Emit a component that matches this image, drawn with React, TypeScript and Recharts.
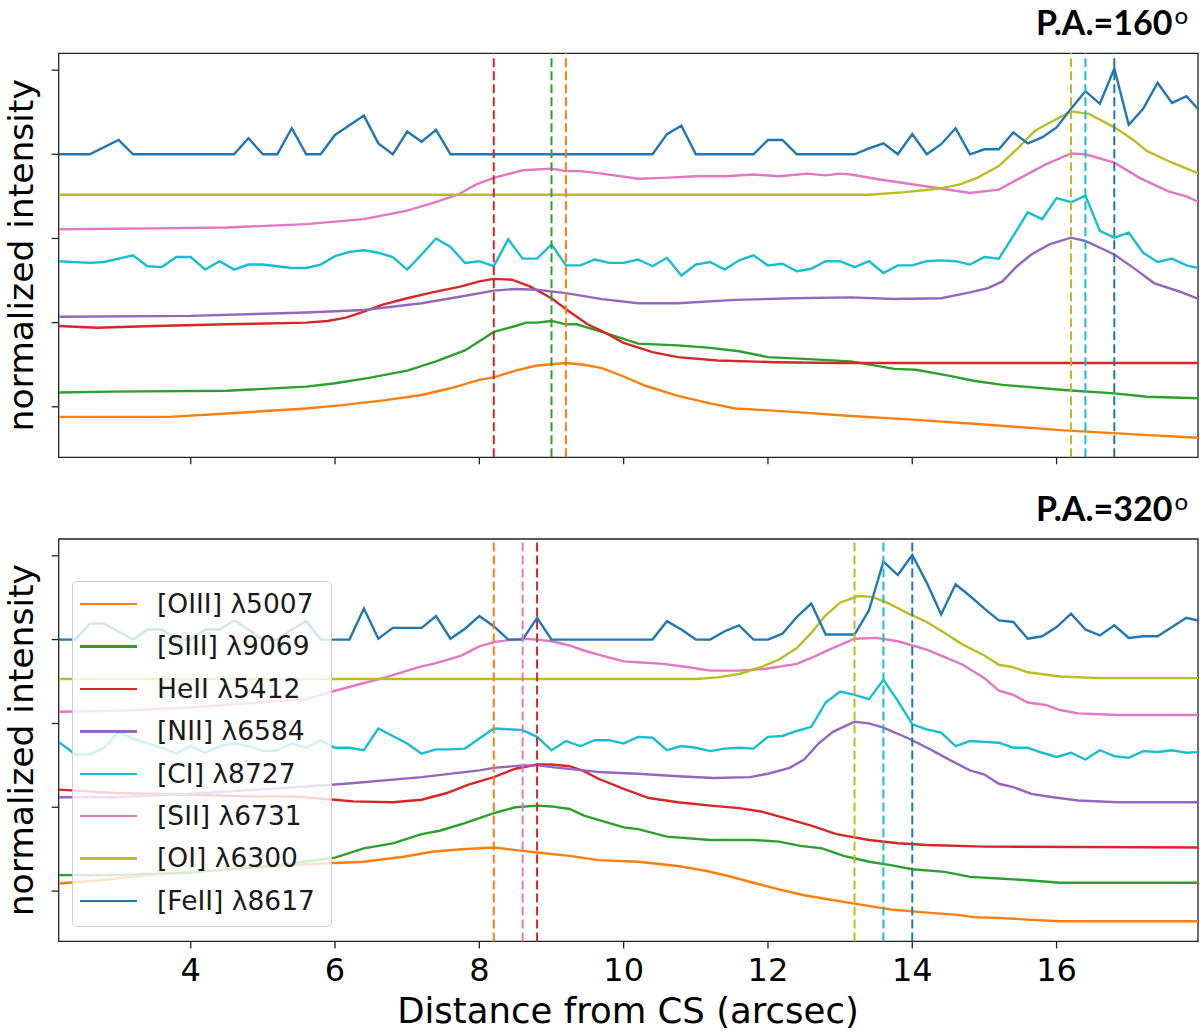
import React from "react";
import { LineChart, Line, XAxis, YAxis, ReferenceLine, ReferenceArea } from "recharts";

type Pt = [number, number];

const NAMES = [
  "[OIII] λ5007",
  "[SIII] λ9069",
  "HeII λ5412",
  "[NII] λ6584",
  "[CI] λ8727",
  "[SII] λ6731",
  "[OI] λ6300",
  "[FeII] λ8617",
];
const COLORS = ["#ff7f0e", "#2ca02c", "#d62728", "#9467bd", "#17becf", "#e377c2", "#bcbd22", "#1f77b4"];

const X_DOMAIN = [2.17, 17.96];
const X_TICKS = [4, 6, 8, 10, 12, 14, 16];
const Y_DOMAIN = [-0.6, 4.2];
const Y_TICKS = [0, 1, 2, 3, 4];

// ---- P.A. = 160 ----
const OIII_160: Pt[] = [[2.17,-0.12],[2.9,-0.12],[3.7,-0.12],[4.5,-0.08],[5.6,-0.02],[6.1,0.02],[6.7,0.08],[7.2,0.14],[7.6,0.22],[8.0,0.32],[8.2,0.35],[8.5,0.43],[8.8,0.49],[9.2,0.52],[9.45,0.5],[9.7,0.46],[10.0,0.36],[10.3,0.25],[10.75,0.13],[11.2,0.04],[11.55,-0.02],[11.95,-0.04],[12.35,-0.06],[13.15,-0.11],[13.95,-0.15],[15.0,-0.21],[16.1,-0.28],[17.15,-0.33],[18.0,-0.37]];
const SIII_160: Pt[] = [[2.17,0.17],[2.9,0.18],[4.5,0.19],[5.6,0.24],[6.0,0.28],[6.45,0.34],[7.0,0.43],[7.4,0.54],[7.8,0.67],[8.0,0.78],[8.2,0.89],[8.5,0.96],[8.65,1.0],[8.8,1.0],[9.0,1.02],[9.2,0.98],[9.35,0.98],[9.5,0.94],[9.7,0.89],[10.2,0.75],[10.75,0.73],[11.2,0.7],[11.6,0.66],[12.0,0.59],[12.5,0.57],[13.15,0.54],[13.75,0.45],[14.05,0.44],[14.5,0.37],[14.85,0.31],[15.25,0.26],[15.55,0.24],[16.1,0.2],[16.8,0.16],[17.25,0.12],[18.0,0.1]];
const HEII_160: Pt[] = [[2.17,0.96],[2.7,0.94],[3.5,0.96],[4.5,0.98],[5.6,1.0],[5.9,1.02],[6.15,1.06],[6.4,1.13],[6.65,1.21],[7.0,1.29],[7.35,1.36],[7.75,1.43],[8.0,1.49],[8.2,1.52],[8.45,1.51],[8.7,1.43],[9.0,1.29],[9.25,1.13],[9.5,0.98],[9.7,0.9],[10.0,0.76],[10.4,0.65],[10.75,0.59],[11.3,0.55],[12.1,0.53],[13.0,0.52],[18.0,0.52]];
const NII_160: Pt[] = [[2.17,1.07],[4.0,1.08],[5.6,1.12],[6.4,1.15],[7.2,1.23],[7.75,1.31],[8.2,1.38],[8.5,1.4],[8.8,1.39],[9.2,1.35],[9.7,1.28],[10.2,1.23],[10.75,1.23],[11.55,1.27],[12.35,1.29],[13.15,1.3],[13.75,1.28],[14.4,1.29],[14.8,1.36],[15.05,1.41],[15.25,1.49],[15.45,1.67],[15.65,1.81],[15.9,1.93],[16.2,2.01],[16.4,1.97],[16.8,1.81],[17.1,1.63],[17.35,1.47],[17.7,1.37],[18.0,1.27]];
const CI_160: Pt[] = [[2.17,1.73],[2.6,1.71],[2.8,1.72],[3.2,1.8],[3.4,1.67],[3.6,1.66],[3.8,1.78],[4.0,1.78],[4.2,1.63],[4.4,1.73],[4.6,1.63],[4.8,1.69],[5.0,1.69],[5.4,1.65],[5.6,1.65],[5.8,1.69],[6.0,1.79],[6.2,1.84],[6.4,1.86],[6.6,1.83],[6.8,1.78],[7.0,1.63],[7.2,1.81],[7.4,2.0],[7.6,1.9],[7.8,1.71],[8.0,1.73],[8.2,1.67],[8.4,1.99],[8.6,1.76],[8.8,1.76],[9.0,1.93],[9.2,1.68],[9.4,1.68],[9.6,1.75],[9.8,1.71],[10.0,1.71],[10.2,1.75],[10.4,1.67],[10.6,1.77],[10.8,1.56],[11.0,1.69],[11.2,1.72],[11.4,1.63],[11.6,1.74],[11.8,1.8],[12.0,1.68],[12.2,1.7],[12.4,1.61],[12.6,1.64],[12.8,1.73],[13.0,1.73],[13.2,1.66],[13.4,1.73],[13.6,1.59],[13.8,1.68],[14.0,1.68],[14.2,1.73],[14.4,1.74],[14.6,1.73],[14.8,1.69],[15.0,1.78],[15.2,1.76],[15.4,2.03],[15.6,2.31],[15.8,2.23],[16.0,2.48],[16.2,2.43],[16.4,2.51],[16.6,2.09],[16.8,2.01],[17.0,2.07],[17.2,1.83],[17.4,1.72],[17.6,1.76],[17.8,1.68],[18.0,1.64]];
const SII_160: Pt[] = [[2.17,2.11],[3.5,2.12],[4.5,2.13],[5.6,2.17],[6.4,2.23],[7.0,2.33],[7.35,2.42],[7.7,2.52],[7.95,2.64],[8.2,2.72],[8.6,2.81],[9.0,2.83],[9.2,2.8],[9.4,2.8],[9.7,2.77],[10.2,2.71],[10.55,2.72],[11.0,2.74],[11.4,2.74],[11.8,2.76],[12.15,2.74],[12.55,2.77],[12.8,2.75],[13.0,2.77],[13.15,2.76],[13.55,2.7],[13.95,2.65],[14.35,2.6],[14.8,2.54],[15.2,2.58],[15.5,2.72],[15.85,2.88],[16.2,3.01],[16.4,3.0],[16.8,2.9],[17.15,2.72],[17.55,2.56],[17.8,2.5],[18.0,2.42]];
const OI_160: Pt[] = [[2.17,2.52],[6.0,2.52],[9.0,2.52],[13.4,2.52],[13.9,2.55],[14.35,2.59],[14.65,2.64],[14.9,2.72],[15.2,2.86],[15.45,3.06],[15.7,3.28],[16.0,3.42],[16.2,3.51],[16.45,3.48],[16.8,3.32],[17.05,3.18],[17.25,3.04],[17.6,2.9],[18.0,2.76]];
const FEII_160: Pt[] = [[2.17,3],[2.6,3],[3.0,3.17],[3.2,3],[4.6,3],[4.8,3.19],[5.0,3],[5.2,3],[5.4,3.31],[5.6,3],[5.8,3],[6.0,3.23],[6.4,3.46],[6.6,3.13],[6.8,3],[7.0,3.27],[7.2,3.15],[7.4,3.29],[7.6,3],[10.4,3],[10.6,3.24],[10.8,3.34],[11.0,3],[11.8,3],[12.0,3.17],[12.2,3.17],[12.4,3],[13.2,3],[13.4,3.07],[13.6,3.13],[13.8,3],[14.0,3.24],[14.2,3],[14.4,3.12],[14.6,3.31],[14.8,3],[15.0,3.06],[15.2,3.06],[15.4,3.26],[15.6,3.13],[15.8,3.2],[16.0,3.32],[16.2,3.54],[16.4,3.75],[16.6,3.6],[16.8,4.02],[17.0,3.35],[17.2,3.54],[17.4,3.85],[17.6,3.61],[17.8,3.69],[18.0,3.5]];
// [series index, peak position]
const PEAKS_160: Pt[] = [[2, 8.2], [1, 9.0], [0, 9.2], [6, 16.2], [4, 16.4], [7, 16.8]];

// ---- P.A. = 320 ----
const OIII_320: Pt[] = [[2.17,0.09],[2.75,0.13],[3.5,0.2],[4.55,0.26],[5.6,0.32],[6.4,0.35],[6.95,0.41],[7.35,0.47],[7.75,0.5],[8.2,0.52],[8.6,0.48],[8.8,0.46],[9.25,0.42],[9.65,0.37],[10.2,0.35],[10.75,0.3],[11.15,0.24],[11.45,0.18],[11.8,0.1],[12.15,0.02],[12.5,-0.05],[12.85,-0.1],[13.2,-0.15],[13.7,-0.22],[14.25,-0.26],[14.6,-0.28],[14.85,-0.31],[15.2,-0.32],[15.6,-0.34],[16.05,-0.36],[18.0,-0.36]];
const SIII_320: Pt[] = [[2.17,0.19],[2.95,0.19],[4.0,0.22],[5.1,0.3],[6.0,0.4],[6.4,0.51],[6.8,0.57],[7.2,0.68],[7.45,0.72],[7.8,0.81],[8.0,0.87],[8.2,0.93],[8.5,1.0],[8.8,1.02],[9.0,1.01],[9.25,0.98],[9.45,0.9],[9.65,0.85],[10.0,0.76],[10.2,0.74],[10.6,0.65],[11.2,0.61],[11.8,0.61],[12.15,0.59],[12.45,0.54],[12.75,0.51],[13.05,0.42],[13.4,0.35],[13.7,0.31],[14.0,0.26],[14.45,0.23],[14.8,0.17],[15.2,0.15],[15.6,0.13],[16.05,0.1],[18.0,0.1]];
const HEII_320: Pt[] = [[2.17,1.21],[2.95,1.17],[4.0,1.15],[4.8,1.13],[5.4,1.13],[6.0,1.09],[6.25,1.07],[6.8,1.06],[7.2,1.09],[7.55,1.17],[7.85,1.27],[8.2,1.36],[8.5,1.46],[8.8,1.51],[9.0,1.51],[9.25,1.49],[9.45,1.43],[9.65,1.34],[10.0,1.22],[10.35,1.11],[10.75,1.06],[11.2,1.02],[11.6,0.99],[11.9,0.95],[12.2,0.88],[12.6,0.78],[12.95,0.68],[13.4,0.61],[13.8,0.57],[14.2,0.55],[15.0,0.53],[18.0,0.52]];
const NII_320: Pt[] = [[2.17,1.12],[2.95,1.12],[4.0,1.16],[5.1,1.22],[6.15,1.28],[7.2,1.36],[8.0,1.44],[8.2,1.47],[8.6,1.5],[8.8,1.5],[9.1,1.47],[9.45,1.44],[9.65,1.42],[10.2,1.4],[10.75,1.37],[11.25,1.35],[11.75,1.36],[12.0,1.4],[12.3,1.47],[12.5,1.57],[12.7,1.76],[12.9,1.9],[13.2,2.02],[13.4,2.0],[13.6,1.95],[13.95,1.82],[14.25,1.69],[14.55,1.55],[14.8,1.44],[15.0,1.39],[15.2,1.28],[15.4,1.24],[15.65,1.16],[15.95,1.12],[16.3,1.08],[16.85,1.06],[18.0,1.06]];
const CI_320: Pt[] = [[2.17,1.78],[2.4,1.63],[2.6,1.63],[2.8,1.71],[3.0,1.9],[3.2,1.82],[3.6,1.71],[3.8,1.64],[4.0,1.73],[4.2,1.65],[4.4,1.73],[4.6,1.76],[4.8,1.73],[5.0,1.67],[5.2,1.68],[5.4,1.76],[5.6,1.71],[5.8,1.8],[6.0,1.71],[6.2,1.71],[6.4,1.68],[6.6,1.94],[6.8,1.85],[7.0,1.76],[7.2,1.64],[7.4,1.69],[7.6,1.69],[7.8,1.7],[8.0,1.82],[8.2,1.94],[8.4,1.93],[8.6,1.92],[8.8,1.84],[9.0,1.68],[9.2,1.79],[9.4,1.73],[9.6,1.8],[9.8,1.8],[10.0,1.76],[10.2,1.84],[10.4,1.83],[10.6,1.68],[10.8,1.73],[11.0,1.71],[11.2,1.67],[11.4,1.7],[11.6,1.71],[11.8,1.7],[12.0,1.84],[12.2,1.85],[12.4,1.91],[12.6,1.96],[12.8,2.25],[13.0,2.38],[13.2,2.34],[13.4,2.29],[13.6,2.52],[13.8,2.27],[14.0,1.99],[14.2,1.93],[14.4,1.89],[14.6,1.73],[14.8,1.79],[15.0,1.78],[15.2,1.77],[15.4,1.71],[15.6,1.71],[15.8,1.65],[16.0,1.6],[16.2,1.65],[16.4,1.57],[16.6,1.68],[16.8,1.61],[17.0,1.59],[17.2,1.67],[17.4,1.66],[17.6,1.68],[17.8,1.65],[18.0,1.66]];
const SII_320: Pt[] = [[2.17,2.14],[2.95,2.15],[4.0,2.19],[5.1,2.26],[5.6,2.29],[6.0,2.39],[6.35,2.47],[6.7,2.55],[7.0,2.63],[7.2,2.68],[7.4,2.72],[7.75,2.81],[8.0,2.92],[8.2,2.97],[8.45,3.0],[8.6,3.01],[8.8,3.0],[9.0,2.98],[9.25,2.93],[9.45,2.87],[9.65,2.82],[10.0,2.74],[10.2,2.73],[10.55,2.71],[10.9,2.67],[11.2,2.63],[11.6,2.63],[11.95,2.65],[12.4,2.71],[12.65,2.8],[12.85,2.88],[13.2,3.01],[13.5,3.02],[13.8,2.98],[14.2,2.88],[14.45,2.79],[14.7,2.7],[15.0,2.54],[15.2,2.39],[15.4,2.34],[15.6,2.25],[15.85,2.22],[16.05,2.16],[16.3,2.12],[16.85,2.1],[18.0,2.1]];
const OI_320: Pt[] = [[2.17,2.53],[9.0,2.53],[11.0,2.53],[11.3,2.55],[11.6,2.59],[11.9,2.67],[12.15,2.76],[12.4,2.9],[12.6,3.08],[12.8,3.29],[13.0,3.44],[13.25,3.52],[13.45,3.51],[13.65,3.44],[13.95,3.31],[14.2,3.21],[14.45,3.08],[14.7,2.94],[15.0,2.81],[15.2,2.7],[15.4,2.67],[15.6,2.61],[16.05,2.56],[16.6,2.54],[18.0,2.54]];
const FEII_320: Pt[] = [[2.17,3],[2.4,3],[2.6,3.19],[2.8,3.19],[3.2,3],[3.4,3.12],[3.6,3.12],[3.8,3],[4.0,3],[4.2,3.12],[4.4,3.12],[4.6,3.23],[4.8,3.12],[5.0,3],[5.2,3],[5.4,3.12],[5.6,3.22],[5.8,3],[6.2,3],[6.4,3.37],[6.6,3.01],[6.8,3.14],[7.2,3.14],[7.4,3.28],[7.6,3.01],[7.8,3.13],[8.0,3.28],[8.2,3.16],[8.4,3],[8.6,3],[8.8,3.26],[9.0,3],[10.4,3],[10.6,3.22],[10.8,3.12],[11.0,3],[11.2,3],[11.4,3.1],[11.6,3.17],[11.8,3],[12.0,3],[12.2,3.07],[12.4,3.27],[12.6,3.43],[12.8,3.06],[13.0,3.06],[13.2,3.06],[13.4,3.35],[13.6,3.93],[13.8,3.77],[14.0,4.01],[14.2,3.68],[14.4,3.3],[14.6,3.66],[14.8,3.52],[15.0,3.37],[15.2,3.23],[15.4,3.21],[15.6,3.01],[15.8,3.04],[16.0,3.15],[16.2,3.31],[16.4,3.12],[16.6,3.05],[16.8,3.17],[17.0,3.02],[17.2,3.04],[17.4,3.04],[17.6,3.15],[17.8,3.26],[18.0,3.22]];
const PEAKS_320: Pt[] = [[0, 8.2], [5, 8.6], [2, 8.8], [6, 13.2], [4, 13.6], [7, 14.0]];

const SERIES_160 = [OIII_160, SIII_160, HEII_160, NII_160, CI_160, SII_160, OI_160, FEII_160];
const SERIES_320 = [OIII_320, SIII_320, HEII_320, NII_320, CI_320, SII_320, OI_320, FEII_320];

const FONT = "DejaVu Sans";
const AXIS = "#222";

interface PanelProps {
  series: Pt[][];
  peaks: Pt[];
  top: number;
  height: number;
  marginTop: number;
  marginBottom: number;
  axisHeight: number;
  labels: boolean;
}

function Panel({ series, peaks, top, height, marginTop, marginBottom, axisHeight, labels }: PanelProps) {
  return (
    <div style={{ position: "absolute", left: 0, top, width: 1200, height }}>
      <LineChart width={1200} height={height} margin={{ top: marginTop, right: 2, bottom: marginBottom, left: 0 }}>
        <XAxis
          type="number"
          dataKey="x"
          domain={X_DOMAIN}
          allowDataOverflow
          ticks={X_TICKS}
          interval={0}
          height={axisHeight}
          axisLine={false}
          tickLine={{ stroke: AXIS, strokeWidth: 1.3 }}
          tickSize={7}
          tickMargin={10}
          tickFormatter={(v: number) => (labels ? String(v) : "")}
          tick={{ fontSize: 32, fill: "#000", fontFamily: FONT }}
        />
        <YAxis
          type="number"
          domain={Y_DOMAIN}
          allowDataOverflow
          ticks={Y_TICKS}
          width={58.7}
          axisLine={false}
          tickLine={{ stroke: AXIS, strokeWidth: 1.3 }}
          tickSize={7}
          tickFormatter={() => ""}
        />
        {series.map((pts, i) => (
          <Line
            key={NAMES[i]}
            data={pts.map(([x, y]) => ({ x, y }))}
            dataKey="y"
            type="linear"
            stroke={COLORS[i]}
            strokeWidth={2.4}
            dot={false}
            activeDot={false}
            isAnimationActive={false}
          />
        ))}
        {peaks.map(([i, x]) => (
          <ReferenceLine key={`${i}-${x}`} x={x} stroke={COLORS[i]} strokeWidth={2} strokeDasharray="9 4" />
        ))}
        <ReferenceArea
          x1={X_DOMAIN[0]}
          x2={X_DOMAIN[1]}
          y1={Y_DOMAIN[0]}
          y2={Y_DOMAIN[1]}
          fill="none"
          stroke={AXIS}
          strokeWidth={1.3}
          ifOverflow="visible"
        />
      </LineChart>
    </div>
  );
}

function LegendBox() {
  return (
    <div
      style={{
        position: "absolute",
        left: 72,
        top: 581,
        width: 260,
        height: 346,
        boxSizing: "border-box",
        border: "1px solid #cfcfcf",
        borderRadius: 5,
        background: "rgba(255,255,255,0.8)",
        paddingTop: 1,
      }}
    >
      {NAMES.map((name, i) => (
        <div key={name} style={{ display: "flex", alignItems: "center", height: 42.4 }}>
          <div style={{ marginLeft: 7, width: 57, height: 2.4, background: COLORS[i] }} />
          <div
            style={{
              marginLeft: 20,
              fontFamily: FONT,
              fontSize: 26.5,
              lineHeight: 1,
              color: "#1a1a1a",
              whiteSpace: "nowrap",
            }}
          >
            {name}
          </div>
        </div>
      ))}
    </div>
  );
}

export default function App() {
  return (
    <div style={{ position: "absolute", left: 0, top: 0, width: 1200, height: 1031, background: "#fff", overflow: "hidden" }}>
      <Panel series={SERIES_160} peaks={PEAKS_160} top={0} height={480} marginTop={53.3} marginBottom={12.7} axisHeight={10} labels={false} />
      <Panel series={SERIES_320} peaks={PEAKS_320} top={480} height={551} marginTop={59} marginBottom={29.6} axisHeight={60} labels />
      <LegendBox />
      <svg width={1200} height={1031} style={{ position: "absolute", left: 0, top: 0, pointerEvents: "none" }}>
        <g fontFamily={FONT} fontSize={34.5} fill="#000">
          <text transform="translate(33,255.3) rotate(-90)" textAnchor="middle">normalized intensity</text>
          <text transform="translate(33,740.2) rotate(-90)" textAnchor="middle">normalized intensity</text>
          <text x={628} y={1023} fontSize={35.5} textAnchor="middle">Distance from CS (arcsec)</text>
        </g>
        <g fontFamily="Lato" fontWeight={700} fontSize={34} fill="#000">
          <text x={1188} y={35} textAnchor="end">
            P.A.=160<tspan dx={2} dy={-11.5} fontSize={24} fontWeight={400}>o</tspan>
          </text>
          <text x={1188} y={521} textAnchor="end">
            P.A.=320<tspan dx={2} dy={-11.5} fontSize={24} fontWeight={400}>o</tspan>
          </text>
        </g>
      </svg>
    </div>
  );
}
